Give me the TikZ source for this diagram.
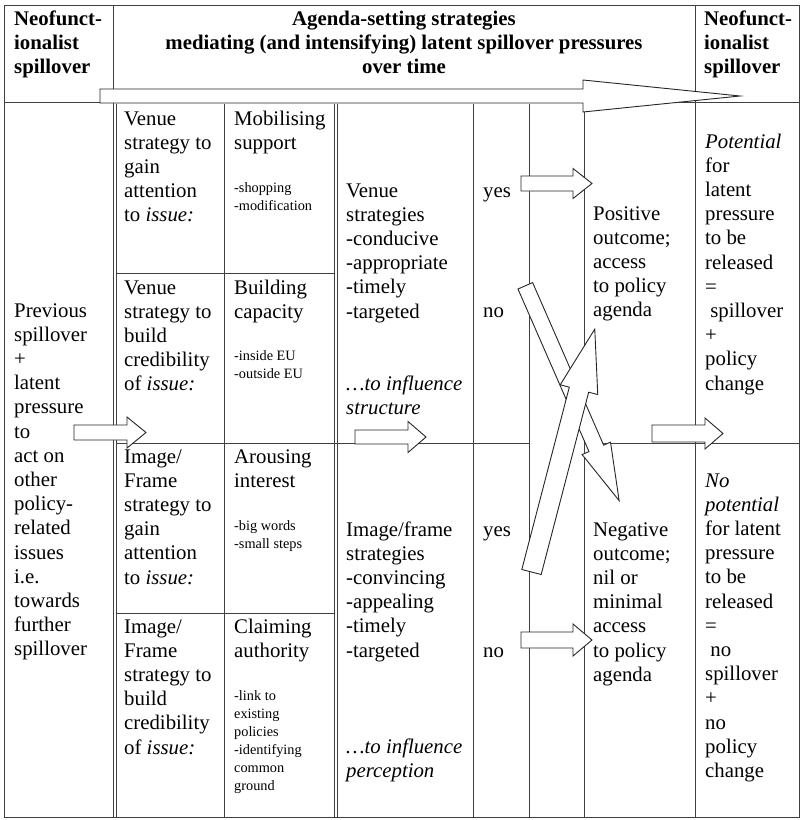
\documentclass[tikz,border=0pt]{standalone}
\usepackage{fontspec}
\setmainfont{Liberation Serif}
\newcommand{\mlines}[1]{\begin{tabular}[t]{@{}l@{}}#1\end{tabular}}
\newcommand{\mcent}[1]{\begin{tabular}[t]{@{}c@{}}#1\end{tabular}}
\newcommand{\blockarrow}[7]{% tail x, tail y, angle, length, shaft half, head half, head length
  \begin{scope}[shift={(#1,#2)}, rotate=#3]
    \draw[barrowstyle] (0,-#5) -- (#4-#7,-#5) -- (#4-#7,-#6) -- (#4,0) -- (#4-#7,#6) -- (#4-#7,#5) -- (0,#5) -- cycle;
  \end{scope}}
\begin{document}
\begin{tikzpicture}[x=1pt,y=-1pt,
  grid/.style={draw=black!75, line width=0.9pt},
  barrowstyle/.style={draw=black!85, line width=0.9pt, fill=white, line join=miter},
  txt/.style={anchor=base west, inner sep=0pt, font=\fontsize{20.8}{24.2}\selectfont},
  small/.style={anchor=base west, inner sep=0pt, font=\fontsize{14.3}{18}\selectfont},
  hdr/.style={anchor=base west, inner sep=0pt, font=\fontsize{20.8}{24.2}\selectfont\bfseries},
]
\useasboundingbox (0,0) rectangle (800,820);
\fill[white] (0,0) rectangle (800,820);

% grid
\draw[grid] (4,5) rectangle (799.5,817);
\draw[grid] (4,102) -- (799.5,102);
\draw[grid] (113,5) -- (113,102);
\draw[grid] (695,5) -- (695,102);
\foreach \xx in {113,695} \draw[grid] (\xx,102) -- (\xx,817);
\foreach \xx in {116,224,334,337,473,529,584} \draw[grid] (\xx,104) -- (\xx,817);
\draw[grid] (116,273) -- (334,273);
\draw[grid] (116,443) -- (529,443);
\draw[grid] (584,443) -- (799.5,443);
\draw[grid] (116,613) -- (334,613);

% block arrows
\blockarrow{100}{96}{0}{640}{7}{16}{157}
\blockarrow{74}{432.5}{0}{72}{7.5}{15.5}{19}
\blockarrow{355}{437}{0}{71}{7}{15.5}{18}
\blockarrow{521}{183.5}{0}{71}{7.5}{15}{19}
\blockarrow{652}{433.5}{0}{71}{8.5}{15.5}{18}
\blockarrow{521}{640}{0}{71}{8}{16}{19}
\blockarrow{525.3}{285.8}{-66.4}{234.4}{8}{15.5}{57}
\blockarrow{531.5}{572}{75.4}{251}{10}{19.4}{62.6}

% header
\node[hdr] (hl) at (14,25) {\mlines{Neofunct-\\ionalist\\spillover}};
\node[hdr, anchor=base] (hc) at (404,25) {\mcent{Agenda-setting strategies\\mediating (and intensifying) latent spillover pressures\\over time}};
\node[hdr] (hr) at (704,25) {\mlines{Neofunct-\\ionalist\\spillover}};

% left column
\node[txt] (prev) at (14,317) {\mlines{Previous\\spillover\\+\\latent\\pressure\\to\\act on\\other\\policy-\\related\\issues\\i.e.\\towards\\further\\spillover}};

% strategy cells
\node[txt] (v1) at (124,125) {\mlines{Venue\\strategy to\\gain\\attention\\to \textit{issue:}}};
\node[txt] (m1) at (234,125) {\mlines{Mobilising\\support}};
\node[small] (m1s) at (234,192) {\mlines{-shopping\\-modification}};
\node[txt] (v2) at (124,294) {\mlines{Venue\\strategy to\\build\\credibility\\of \textit{issue:}}};
\node[txt] (b2) at (234,294) {\mlines{Building\\capacity}};
\node[small] (b2s) at (234,360) {\mlines{-inside EU\\-outside EU}};
\node[txt] (i1) at (124,463) {\mlines{Image/\\Frame\\strategy to\\gain\\attention\\to \textit{issue:}}};
\node[txt] (a1) at (234,463) {\mlines{Arousing\\interest}};
\node[small] (a1s) at (234,530) {\mlines{-big words\\-small steps}};
\node[txt] (i2) at (124,633) {\mlines{Image/\\Frame\\strategy to\\build\\credibility\\of \textit{issue:}}};
\node[txt] (c2) at (234,633) {\mlines{Claiming\\authority}};
\node[small] (c2s) at (234,700) {\mlines{-link to\\existing\\policies\\-identifying\\common\\ground}};

% strategies column
\node[txt] (vs) at (346,197) {\mlines{Venue\\strategies\\-conducive\\-appropriate\\-timely\\-targeted}};
\node[txt] (vsi) at (346,390) {\mlines{\textit{…to influence}\\\textit{structure}}};
\node[txt] (is) at (346,536) {\mlines{Image/frame\\strategies\\-convincing\\-appealing\\-timely\\-targeted}};
\node[txt] (isi) at (346,753) {\mlines{\textit{…to influence}\\\textit{perception}}};

% yes / no
\node[txt] (y1) at (483,197) {yes};
\node[txt] (n1) at (483,317) {no};
\node[txt] (y2) at (483,536) {yes};
\node[txt] (n2) at (483,657) {no};

% outcomes
\node[txt] (pos) at (593,220) {\mlines{Positive\\outcome;\\access\\to policy\\agenda}};
\node[txt] (neg) at (593,536) {\mlines{Negative\\outcome;\\nil or\\minimal\\access\\to policy\\agenda}};

% right column
\node[txt] (r1) at (705,148) {\mlines{\textit{Potential}\\for\\latent\\pressure\\to be\\released\\=\\\ spillover\\+\\policy\\change}};
\node[txt] (r2) at (705,487) {\mlines{\textit{No}\\\textit{potential}\\for latent\\pressure\\to be\\released\\=\\\ no\\spillover\\+\\no\\policy\\change}};
\end{tikzpicture}
\end{document}
